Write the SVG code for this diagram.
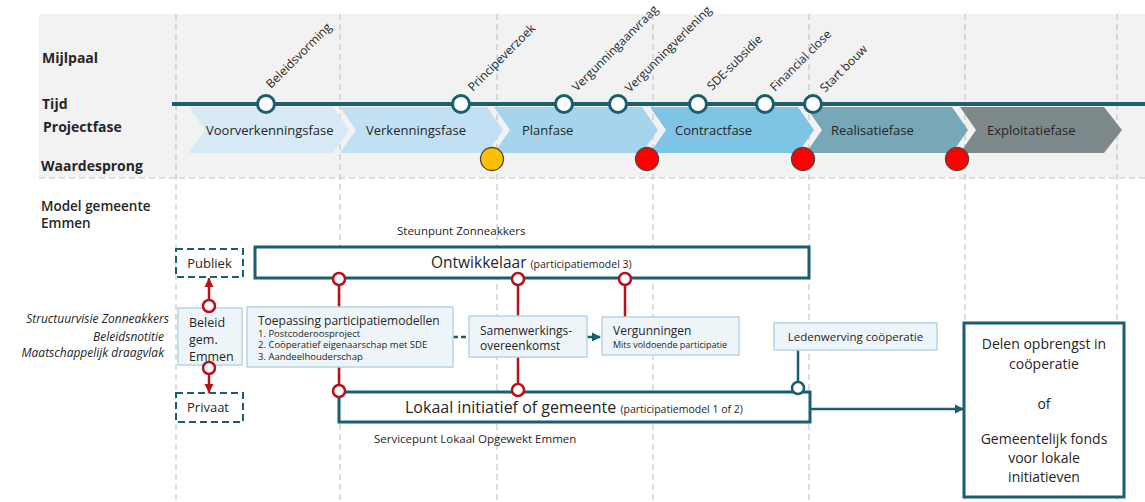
<svg xmlns="http://www.w3.org/2000/svg" width="1145" height="502" viewBox="0 0 1145 502">
<style>
text{font-family:"Open Sans","Noto Sans","Liberation Sans",sans-serif;fill:#262626}
.hdr{font-weight:bold;font-size:14px}
.ms{font-size:12px}
.ph{font-size:13px}
.vl{stroke:#c6c6c6;stroke-width:1.2;stroke-dasharray:6 4;fill:none}
.mc{fill:#fff;stroke:#1a5e6f;stroke-width:3}
.ws{stroke:#4a4a4a;stroke-width:1.3}
.box{fill:#eef5f9;stroke:#b7d5e2;stroke-width:1.5}
.tbox{fill:#fff;stroke:#1a5e6f;stroke-width:3}
.dbox{fill:#fff;stroke:#1a5e6f;stroke-width:2;stroke-dasharray:7 4}
.red{stroke:#b5121b;stroke-width:2.5;fill:none}
.rc{fill:#fff;stroke:#b5121b;stroke-width:2.5}
.tl{stroke:#1a5e6f;stroke-width:2.5;fill:none}
.tc{fill:#fff;stroke:#1a5e6f;stroke-width:2.5}
.it{font-style:italic;font-size:12px;text-anchor:end}
.sm{font-size:11.5px}
.bt{font-size:12px}
.li{font-size:9.5px}
.dl{font-size:14px;text-anchor:middle}
</style>
<defs>
<marker id="ar" markerUnits="userSpaceOnUse" markerWidth="10" markerHeight="10" refX="9" refY="5" orient="auto"><path d="M0,0.5 L9,5 L0,9.5 z" fill="#b5121b"/></marker>
<marker id="at" markerUnits="userSpaceOnUse" markerWidth="10" markerHeight="10" refX="9" refY="5" orient="auto"><path d="M0,0.5 L9,5 L0,9.5 z" fill="#1a5e6f"/></marker>
</defs>
<rect x="0" y="0" width="1145" height="502" fill="#fff"/>
<rect x="39" y="14" width="1106" height="164" fill="#f2f2f2"/>
<line x1="39" y1="178" x2="1145" y2="178" class="vl"/>
<g id="gridlines">
<line x1="176" y1="14" x2="176" y2="502" class="vl"/>
<line x1="340" y1="14" x2="340" y2="502" class="vl"/>
<line x1="497" y1="14" x2="497" y2="502" class="vl"/>
<line x1="653" y1="14" x2="653" y2="502" class="vl"/>
<line x1="809" y1="14" x2="809" y2="502" class="vl"/>
<line x1="965" y1="14" x2="965" y2="502" class="vl"/>
<line x1="1117" y1="14" x2="1117" y2="502" class="vl"/>
</g>
<g id="row-labels">
<text x="42" y="63" class="hdr">Mijlpaal</text>
<text x="42" y="109" class="hdr">Tijd</text>
<text x="43" y="132" class="hdr">Projectfase</text>
<text x="41" y="171" class="hdr">Waardesprong</text>
<text x="41" y="211" style="font-size:13.5px;font-weight:600">Model gemeente</text>
<text x="41" y="228" style="font-size:13.5px;font-weight:600">Emmen</text>
</g>
<g id="phases">
<polygon points="189,107 333,107 349,130 333,153 189,153 205,130" fill="#d6e9f5"/>
<text x="206" y="135" class="ph">Voorverkenningsfase</text>
<polygon points="340,107 487,107 503,130 487,153 340,153 356,130" fill="#c2e0f3"/>
<text x="366" y="135" class="ph">Verkenningsfase</text>
<polygon points="494,107 642,107 658,130 642,153 494,153 510,130" fill="#a6d4ed"/>
<text x="522" y="135" class="ph">Planfase</text>
<polygon points="650,107 798,107 814,130 798,153 650,153 666,130" fill="#7ec4e5"/>
<text x="675" y="135" class="ph">Contractfase</text>
<polygon points="806,107 952,107 968,130 952,153 806,153 822,130" fill="#78a7b7"/>
<text x="831" y="135" class="ph">Realisatiefase</text>
<polygon points="960,107 1104,107 1122,130 1104,153 960,153 976,130" fill="#7e898c"/>
<text x="987" y="135" class="ph">Exploitatiefase</text>
</g>
<g id="timeline">
<line x1="172" y1="104" x2="1145" y2="104" stroke="#1a5e6f" stroke-width="4"/>
</g>
<g id="milestones">
<circle cx="266" cy="104" r="8.5" class="mc"/>
<text class="ms" transform="translate(271,89) rotate(-45)">Beleidsvorming</text>
<circle cx="461" cy="104" r="8.5" class="mc"/>
<text class="ms" transform="translate(473,92) rotate(-45)">Principeverzoek</text>
<circle cx="564" cy="104" r="8.5" class="mc"/>
<text class="ms" transform="translate(577,92) rotate(-45)">Vergunningaanvraag</text>
<circle cx="618" cy="104" r="8.5" class="mc"/>
<text class="ms" transform="translate(630,93) rotate(-45)">Vergunningverlening</text>
<circle cx="698" cy="104" r="8.5" class="mc"/>
<text class="ms" transform="translate(712,91) rotate(-45)">SDE-subsidie</text>
<circle cx="765" cy="104" r="8.5" class="mc"/>
<text class="ms" transform="translate(775,92) rotate(-45)">Financial close</text>
<circle cx="813" cy="104" r="8.5" class="mc"/>
<text class="ms" transform="translate(825,93) rotate(-45)">Start bouw</text>
</g>
<g id="waardesprong">
<circle cx="492" cy="159" r="11.5" fill="#fdbf00" class="ws"/>
<circle cx="647" cy="159" r="11.5" fill="#fe0000" class="ws"/>
<circle cx="803" cy="159" r="11.5" fill="#fe0000" class="ws"/>
<circle cx="957" cy="159" r="11.5" fill="#fe0000" class="ws"/>
</g>
<g id="policy-labels">
<text x="169" y="323" class="it">Structuurvisie Zonneakkers</text>
<text x="164" y="341" class="it">Beleidsnotitie</text>
<text x="164" y="357" class="it">Maatschappelijk draagvlak</text>
</g>
<g id="connectors">
<line x1="209" y1="300" x2="209" y2="278" class="red" marker-end="url(#ar)"/>
<line x1="209" y1="374" x2="209" y2="393" class="red" marker-end="url(#ar)"/>
<line x1="339" y1="285" x2="339" y2="307" class="red"/>
<line x1="339" y1="367" x2="339" y2="385" class="red"/>
<line x1="518" y1="285" x2="518" y2="316" class="red"/>
<line x1="518" y1="357" x2="518" y2="384" class="red"/>
<line x1="625" y1="285" x2="625" y2="317" class="red"/>
<line x1="453" y1="337" x2="469" y2="337" class="tl" stroke-dasharray="5 3"/>
<line x1="587" y1="337" x2="601" y2="337" class="tl" stroke-dasharray="5 3" marker-end="url(#at)"/>
<line x1="798" y1="350" x2="798" y2="382" class="tl"/>
<line x1="810" y1="409" x2="964" y2="409" class="tl" marker-end="url(#at)"/>
</g>
<g id="steunpunt">
<text x="397" y="235" class="sm">Steunpunt Zonneakkers</text>
</g>
<g id="ontwikkelaar">
<rect x="255" y="247" width="554" height="31" class="tbox"/>
<text x="431" y="268" style="font-size:15.5px">Ontwikkelaar <tspan style="font-size:10.5px">(participatiemodel 3)</tspan></text>
</g>
<g id="publiek">
<rect x="176" y="249" width="67" height="28" class="dbox"/>
<text x="209.5" y="268" text-anchor="middle" style="font-size:13px">Publiek</text>
</g>
<g id="beleid">
<rect x="178" y="308" width="64" height="57" class="box"/>
<text x="189" y="327" style="font-size:12.5px">Beleid</text>
<text x="189" y="344" style="font-size:12.5px">gem.</text>
<text x="189" y="361" style="font-size:12.5px">Emmen</text>
</g>
<g id="privaat">
<rect x="176" y="393" width="67" height="29" class="dbox"/>
<text x="208" y="412" text-anchor="middle" style="font-size:13px">Privaat</text>
</g>
<g id="toepassing">
<rect x="247" y="307" width="206" height="60" class="box"/>
<text x="258" y="325" class="bt">Toepassing participatiemodellen</text>
<text x="258" y="337" class="li">1. Postcoderoosproject</text>
<text x="258" y="348" class="li">2. Coöperatief eigenaarschap met SDE</text>
<text x="258" y="360" class="li">3. Aandeelhouderschap</text>
</g>
<g id="samenwerking">
<rect x="469" y="316" width="118" height="41" class="box"/>
<text x="480" y="335" class="bt">Samenwerkings-</text>
<text x="480" y="350" class="bt">overeenkomst</text>
</g>
<g id="vergunningen">
<rect x="602" y="317" width="137" height="38" class="box"/>
<text x="613" y="335" class="bt">Vergunningen</text>
<text x="613" y="348" style="font-size:9px">Mits voldoende participatie</text>
</g>
<g id="ledenwerving">
<rect x="774" y="323" width="163" height="27" class="box"/>
<text x="855.5" y="341" text-anchor="middle" class="sm">Ledenwerving coöperatie</text>
</g>
<g id="lokaal">
<rect x="339" y="392" width="471" height="30" class="tbox"/>
<text x="405" y="413" style="font-size:16px">Lokaal initiatief of gemeente <tspan style="font-size:10.5px">(participatiemodel 1 of 2)</tspan></text>
<text x="374" y="443" class="sm">Servicepunt Lokaal Opgewekt Emmen</text>
</g>
<g id="ports">
<circle cx="209" cy="306" r="6" class="rc"/>
<circle cx="209" cy="368" r="6" class="rc"/>
<circle cx="339" cy="279" r="6" class="rc"/>
<circle cx="339" cy="391" r="6" class="rc"/>
<circle cx="518" cy="279" r="6" class="rc"/>
<circle cx="518" cy="390" r="6" class="rc"/>
<circle cx="625" cy="279" r="6" class="rc"/>
<circle cx="798" cy="388" r="6" class="tc"/>
</g>
<g id="delen">
<rect x="964" y="323" width="160" height="174" class="tbox"/>
<text x="1044" y="349" class="dl">Delen opbrengst in</text>
<text x="1044" y="369" class="dl">coöperatie</text>
<text x="1044" y="409" class="dl">of</text>
<text x="1044" y="444" class="dl">Gemeentelijk fonds</text>
<text x="1044" y="463" class="dl">voor lokale</text>
<text x="1044" y="482" class="dl">initiatieven</text>
</g>
</svg>
